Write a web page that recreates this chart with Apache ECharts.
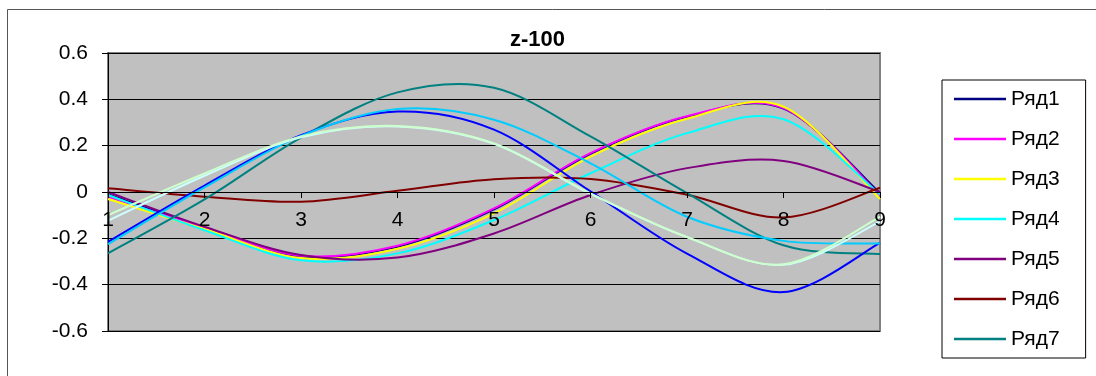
<!DOCTYPE html>
<html>
<head>
<meta charset="utf-8">
<script src="https://cdn.jsdelivr.net/npm/echarts@6/dist/echarts.min.js"></script>
<style>
  html, body { margin: 0; padding: 0; background: #fff; }
  #chart { width: 1096px; height: 376px; }
</style>
</head>
<body>
<div id="chart"></div>
<script>
// Category positions along the horizontal axis
const categories = ['1', '2', '3', '4', '5', '6', '7', '8', '9'];

// Value-axis ticks
const yMin = -0.6;
const yMax = 0.6;
const yStep = 0.2;

// Series names (only the first seven appear in the legend)
const names = ['Ряд1', 'Ряд2', 'Ряд3', 'Ряд4', 'Ряд5', 'Ряд6', 'Ряд7', 'Ряд8', 'Ряд9', 'Ряд10', 'Ряд11'];

// Series values, one per category
const s1  = [-0.010, -0.155, -0.278, -0.236, -0.075,  0.165,  0.325,  0.360, -0.005];
const s2  = [-0.020, -0.155, -0.275, -0.232, -0.071,  0.168,  0.327,  0.362, -0.013];
const s3  = [-0.030, -0.160, -0.285, -0.245, -0.092,  0.153,  0.316,  0.368, -0.030];
const s4  = [-0.013, -0.165, -0.295, -0.265, -0.121,  0.081,  0.254,  0.314, -0.010];
const s5  = [ 0.000, -0.150, -0.272, -0.283, -0.179, -0.013,  0.103,  0.134,  0.000];
const s6  = [ 0.016, -0.020, -0.042,  0.005,  0.055,  0.056, -0.012, -0.110,  0.018];
const s7  = [-0.265, -0.032,  0.235,  0.430,  0.450,  0.240, -0.005, -0.230, -0.268];
const s8  = [-0.215,  0.028,  0.245,  0.347,  0.269,  0.003, -0.266, -0.432, -0.220];
const s9  = [-0.225,  0.020,  0.242,  0.358,  0.312,  0.124, -0.107, -0.211, -0.222];
const s10 = [-0.124,  0.070,  0.236,  0.283,  0.208, -0.008, -0.195, -0.314, -0.128];
const s11 = [-0.100,  0.080,  0.240,  0.285,  0.210, -0.006, -0.194, -0.312, -0.107];

const values = [s1, s2, s3, s4, s5, s6, s7, s8, s9, s10, s11];
const colors = ['#000080', '#FF00FF', '#FFFF00', '#00FFFF', '#800080', '#800000',
                '#008080', '#0000FF', '#00CCFF', '#CCFFFF', '#CCFFCC'];

const FONT = '"Liberation Sans", Arial, sans-serif';
const GRID = { left: 108, right: 216, top: 53, bottom: 45 };
const HEIGHT = 376;

// Keeps the category axis on the zero line of the value axis
const plotHeight = HEIGHT - GRID.top - GRID.bottom;
const xAxisOffset = -((0 - yMin) / (yMax - yMin)) * plotHeight;

// Smooth curve through pixel points: cubic Bezier segments with
// Catmull-Rom tangents (one sixth of the neighbour span).
function smoothPath(pts) {
  let d = 'M' + pts[0][0] + ',' + pts[0][1];
  for (let i = 0; i < pts.length - 1; i++) {
    const p0 = pts[i - 1] || pts[i];
    const p1 = pts[i];
    const p2 = pts[i + 1];
    const p3 = pts[i + 2] || pts[i + 1];
    const c1x = p1[0] + (p2[0] - p0[0]) / 6;
    const c1y = p1[1] + (p2[1] - p0[1]) / 6;
    const c2x = p2[0] - (p3[0] - p1[0]) / 6;
    const c2y = p2[1] - (p3[1] - p1[1]) / 6;
    d += ' C' + c1x + ',' + c1y + ' ' + c2x + ',' + c2y + ' ' + p2[0] + ',' + p2[1];
  }
  return d;
}

const chart = echarts.init(document.getElementById('chart'), null, { renderer: 'canvas' });

const series = values.map((v, i) => ({
  name: names[i],
  type: 'custom',
  coordinateSystem: 'cartesian2d',
  data: v.map((y, k) => [k, y]),
  encode: { x: 0, y: 1 },
  itemStyle: { color: colors[i] },
  silent: true,
  animation: false,
  renderItem: (params, api) => {
    if (params.dataIndex !== 0) return null;
    const pts = v.map((y, k) => api.coord([k, y]));
    return {
      type: 'path',
      shape: { pathData: smoothPath(pts) },
      style: { fill: 'none', stroke: colors[i], lineWidth: 2 }
    };
  }
}));

chart.setOption({
  animation: false,
  color: colors,
  textStyle: { fontFamily: FONT },
  graphic: [{
    type: 'rect',
    shape: { x: 7.5, y: 9.5, width: 1200, height: 600 },
    style: { fill: 'none', stroke: '#555', lineWidth: 1 },
    silent: true,
    z: -10
  }],
  title: {
    text: 'z-100',
    left: 505,
    top: 24,
    textStyle: { fontFamily: FONT, fontSize: 22, fontWeight: 'bold', color: '#000' }
  },
  legend: {
    data: names.slice(0, 7),
    orient: 'vertical',
    left: 942,
    top: 80,
    padding: [7, 26, 7, 12],
    itemWidth: 52,
    itemHeight: 14,
    itemGap: 16,
    itemTextGap: 6,
    icon: 'path://M0,0H104V5H0Z',
    symbolKeepAspect: true,
    borderColor: '#000',
    borderWidth: 1,
    selectedMode: false,
    textStyle: { fontFamily: FONT, fontSize: 21, color: '#000', lineHeight: 24 }
  },
  grid: {
    left: GRID.left,
    right: GRID.right,
    top: GRID.top,
    bottom: GRID.bottom,
    show: true,
    backgroundColor: '#C0C0C0',
    borderColor: '#808080',
    borderWidth: 2
  },
  xAxis: {
    type: 'category',
    data: categories,
    boundaryGap: false,
    offset: xAxisOffset,
    z: 5,
    axisLine: { onZero: true, lineStyle: { color: '#000', width: 1 } },
    axisTick: { show: true, length: 6, lineStyle: { color: '#000' } },
    axisLabel: { fontFamily: FONT, fontSize: 21, color: '#000', margin: 18 },
    splitLine: { show: false }
  },
  yAxis: {
    type: 'value',
    min: yMin,
    max: yMax,
    interval: yStep,
    axisLine: { show: true, lineStyle: { color: '#000', width: 1 } },
    axisTick: { show: true, length: 6, lineStyle: { color: '#000' } },
    axisLabel: {
      fontFamily: FONT, fontSize: 21, color: '#000', margin: 20,
      formatter: v => {
        const r = Math.round(v * 10) / 10;
        return r === 0 ? '0' : r.toFixed(1);
      }
    },
    splitLine: { show: true, lineStyle: { color: '#000', width: 1 } }
  },
  series: series
});
</script>
</body>
</html>
